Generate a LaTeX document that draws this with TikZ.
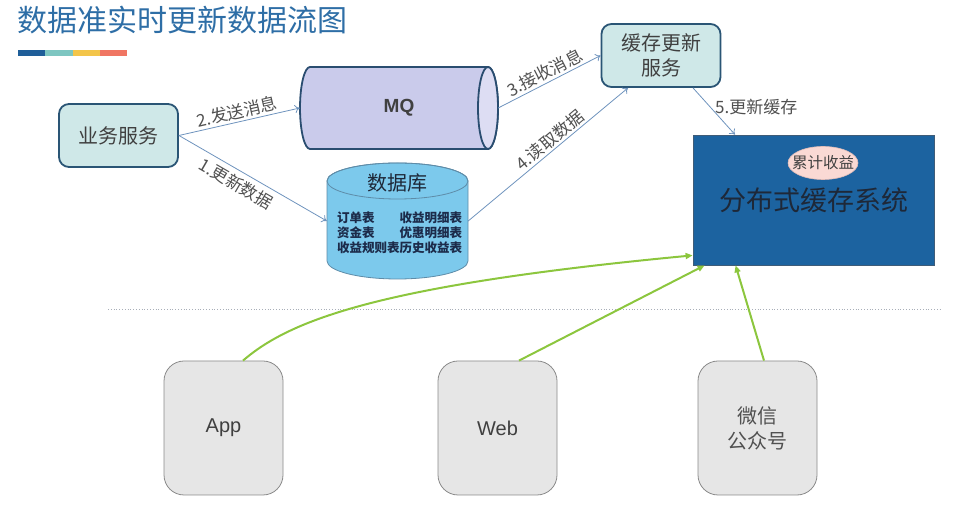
\documentclass[tikz,border=0pt]{standalone}
\usepackage{fontspec}
\setmainfont{Noto Sans CJK SC}
\newfontfamily\latinsans{Liberation Sans}
\usepackage{tikz}
\usetikzlibrary{arrows.meta}
\usetikzlibrary{shapes.geometric}

\definecolor{titleblue}{HTML}{2E6EA6}
\definecolor{barblue}{HTML}{1F5E99}
\definecolor{barteal}{HTML}{7EC6C1}
\definecolor{baryellow}{HTML}{F3C54A}
\definecolor{barred}{HTML}{F07663}
\definecolor{svcfill}{HTML}{CFE8E8}
\definecolor{svcedge}{HTML}{2A5575}
\definecolor{mqfill}{HTML}{CACBEB}
\definecolor{mqend}{HTML}{DDDDF3}
\definecolor{mqedge}{HTML}{2A4D70}
\definecolor{dbfill}{HTML}{7CC9EC}
\definecolor{dbedge}{HTML}{5E8CA8}
\definecolor{dbtext}{HTML}{1C2B4A}
\definecolor{cacheblue}{HTML}{1C63A0}
\definecolor{cacheedge}{HTML}{3F5C78}
\definecolor{cachetext}{HTML}{1E2838}
\definecolor{sumfill}{HTML}{FAD9D4}
\definecolor{sumedge}{HTML}{E2BDB8}
\definecolor{flowblue}{HTML}{6E93BD}
\definecolor{lblgray}{HTML}{505050}
\definecolor{txtgray}{HTML}{404040}
\definecolor{readgreen}{HTML}{8CC63E}
\definecolor{clientfill}{HTML}{E6E6E6}
\definecolor{clientedge}{HTML}{8A8A8A}
\definecolor{sepgray}{HTML}{A8AEB8}

\tikzset{
    svcbox/.style={rectangle, rounded corners=10pt, fill=svcfill, draw=svcedge,
        line width=1.8pt, minimum width=119pt, minimum height=63pt, text=txtgray,
        align=center, font=\fontsize{20}{25}\selectfont},
    clientbox/.style={rectangle, rounded corners=20pt, fill=clientfill, draw=clientedge,
        line width=0.8pt, minimum width=119pt, minimum height=134pt, text=txtgray,
        align=center, font=\fontsize{20}{25}\selectfont},
    flow/.style={draw=flowblue, line width=0.8pt, -{To[length=5pt,width=8pt]}},
    flowtext/.style={text=lblgray, inner sep=2pt, font=\fontsize{17}{19}\selectfont},
    read/.style={draw=readgreen, line width=2pt, -{Triangle[length=7pt,width=6pt]}}
}

\begin{document}
\begin{tikzpicture}[x=1pt, y=1pt]
    \useasboundingbox (0,0) rectangle (960,513);

    \node[anchor=west, text=titleblue, inner sep=0pt,
    font=\fontsize{30}{34}\selectfont] (title) at (17,493) {数据准实时更新数据流图};
    \foreach \c [count=\i] in {barblue,barteal,baryellow,barred}
        \fill[\c] ({18+27.25*(\i-1)},457) rectangle ++(27.25,6);

    \node[svcbox] (biz) at (118.5,377.5) {业务服务};
    \node[svcbox] (cacheupd) at (661,457.5) {缓存更新\\服务};

    \filldraw[fill=mqfill, draw=mqedge, line width=1.8pt]
    (310,446) -- (488,446) arc[start angle=90, end angle=-90, x radius=10pt, y radius=41pt]
    -- (310,364) arc[start angle=270, end angle=90, x radius=10pt, y radius=41pt] -- cycle;
    \filldraw[fill=mqend, draw=mqedge, line width=1.8pt] (488,405) ellipse[x radius=10pt, y radius=41pt];
    \node[minimum width=198pt, minimum height=82pt, inner sep=0pt, text=txtgray,
    font=\latinsans\bfseries\fontsize{19}{22}\selectfont] (mq) at (399,405) {MQ};

    \filldraw[fill=dbfill, draw=dbedge, line width=0.8pt]
    (327,332) -- (327,252) arc[start angle=180, end angle=360, x radius=70.5pt, y radius=18pt]
    -- (468,332) arc[start angle=0, end angle=180, x radius=70.5pt, y radius=18pt] -- cycle;
    \draw[draw=dbedge, line width=0.8pt] (397.5,332) ellipse[x radius=70.5pt, y radius=18pt];
    \node[minimum width=141pt, minimum height=116pt, inner sep=0pt] (db) at (397.5,292) {};
    \node[text=cachetext, font=\fontsize{20}{24}\selectfont] (dbname) at (397.5,330) {数据库};
    \node[text=dbtext, inner sep=0pt, font=\bfseries\fontsize{12.5}{14.5}\selectfont] (dbtab) at (399.5,278.5) {%
        \begin{tabular}{@{}l@{}r@{}}
            订单表 & 收益明细表\\
            资金表 & 优惠明细表\\
            收益规则表 & 历史收益表
        \end{tabular}};

    \node[fill=cacheblue, draw=cacheedge, line width=0.8pt, minimum width=241pt,
    minimum height=130pt, text=cachetext,
    font=\fontsize{27}{30}\selectfont] (cache) at (813.5,313) {分布式缓存系统};
    \node[ellipse, fill=sumfill, draw=sumedge, line width=0.6pt, minimum width=70pt,
    minimum height=33pt] (sum) at (823,350) {};
    \node[text=txtgray, font=\fontsize{15.5}{18}\selectfont] (sumtext) at (sum) {累计收益};

    \draw[flow] (biz.east) -- (mq.west) node[flowtext, sloped, midway, above] {2.发送消息};
    \draw[flow] (biz.east) -- (db.west) node[flowtext, sloped, pos=0.43, below=3pt] {1.更新数据};
    \draw[flow] (mq.east) -- (cacheupd.west) node[flowtext, sloped, midway, above] {3.接收消息};
    \draw[flow] (db.east) -- ([xshift=-33pt]cacheupd.south) node[flowtext, sloped, pos=0.55, above] {4.读取数据};
    \draw[flow] ([xshift=32pt]cacheupd.south) -- ([xshift=-78.5pt]cache.north) node[flowtext, pos=0.4, right=3pt] {5.更新缓存};

    \draw[sepgray, dotted, line width=0.8pt] (108,204) -- (940,204);

    \node[clientbox, font=\latinsans\fontsize{20}{24}\selectfont] (app) at (223.5,85) {App};
    \node[clientbox, font=\latinsans\fontsize{20}{24}\selectfont] (web) at (497.5,85) {Web};
    \node[clientbox, text=lblgray] (wx) at (757.5,85) {微信\\公众号};

    \draw[read] ([xshift=19.5pt]app.north) .. controls (290,193) and (380,228) .. ([yshift=10pt]cache.south west);
    \draw[read] ([xshift=21.5pt]web.north) -- ([xshift=12pt]cache.south west);
    \draw[read] ([xshift=6.5pt]wx.north) -- ([xshift=43pt]cache.south west);
\end{tikzpicture}
\end{document}
